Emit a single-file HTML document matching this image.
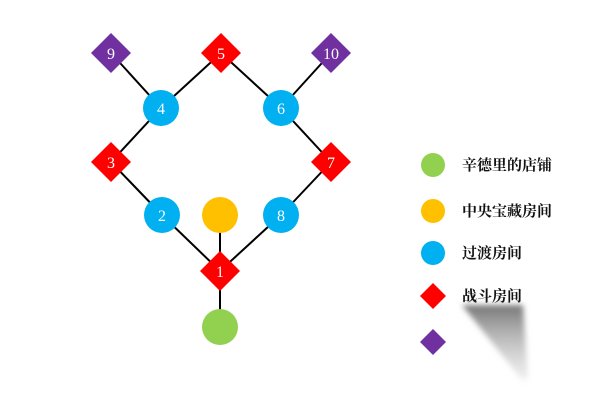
<!DOCTYPE html>
<html><head><meta charset="utf-8"><style>
html,body{margin:0;padding:0;background:#fff;width:600px;height:401px;overflow:hidden}
</style></head><body>
<svg width="600" height="401" viewBox="0 0 600 401" xmlns="http://www.w3.org/2000/svg">
<defs>
<filter id="b" x="-50%" y="-50%" width="200%" height="200%"><feGaussianBlur stdDeviation="3"/></filter>
<linearGradient id="g" x1="0" y1="0" x2="0" y2="1"><stop offset="0" stop-color="#777"/><stop offset="1" stop-color="#ccc" stop-opacity="0.3"/></linearGradient>
</defs>
<g stroke="#000" stroke-width="2">
<line x1="111" y1="53" x2="161" y2="108"/>
<line x1="221" y1="53" x2="161" y2="108"/>
<line x1="221" y1="53" x2="281" y2="108"/>
<line x1="331" y1="53" x2="281" y2="108"/>
<line x1="161" y1="108" x2="111" y2="162"/>
<line x1="281" y1="108" x2="331" y2="162"/>
<line x1="111" y1="162" x2="162" y2="215"/>
<line x1="331" y1="162" x2="281" y2="215"/>
<line x1="162" y1="215" x2="220" y2="271"/>
<line x1="281" y1="215" x2="220" y2="271"/>
<line x1="220" y1="215" x2="220" y2="271"/>
<line x1="220" y1="271" x2="220" y2="327"/>
</g>
<g font-family="Liberation Serif, serif" font-size="16" fill="#fff" text-anchor="middle">
<polygon points="111,33 131,53 111,73 91,53" fill="#7030a0"/><text x="111" y="59">9</text>
<polygon points="221,33 241,53 221,73 201,53" fill="#f00"/><text x="221" y="59">5</text>
<polygon points="331,33 351,53 331,73 311,53" fill="#7030a0"/><text x="331" y="59">10</text>
<circle cx="161" cy="108" r="18" fill="#00b0f0"/><text x="161" y="114">4</text>
<circle cx="281" cy="108" r="18" fill="#00b0f0"/><text x="281" y="114">6</text>
<polygon points="111,142 131,162 111,182 91,162" fill="#f00"/><text x="111" y="168">3</text>
<polygon points="331,142 351,162 331,182 311,162" fill="#f00"/><text x="331" y="168">7</text>
<circle cx="162" cy="215" r="18" fill="#00b0f0"/><text x="162" y="221">2</text>
<circle cx="220" cy="215" r="18" fill="#ffc000"/>
<circle cx="281" cy="215" r="18" fill="#00b0f0"/><text x="281" y="221">8</text>
<polygon points="220,251 240,271 220,291 200,271" fill="#f00"/><text x="220" y="277">1</text>
<circle cx="220" cy="327" r="18" fill="#92d050"/>
</g>
<circle cx="433" cy="165" r="12" fill="#92d050"/>
<circle cx="433" cy="211" r="12" fill="#ffc000"/>
<circle cx="433" cy="253" r="12" fill="#00b0f0"/>
<polygon points="433,283 446,296 433,309 420,296" fill="#f00"/>
<polygon points="433,329 446,342 433,355 420,342" fill="#7030a0"/>
<g font-family="Liberation Serif, 'Noto Serif CJK SC', serif" font-size="15" font-weight="bold" fill="#111">
<text x="462" y="170">辛德里的店铺</text>
<text x="462" y="216">中央宝藏房间</text>
<text x="462" y="258">过渡房间</text>
<text x="462" y="301">战斗房间</text>
</g>
<polygon points="462,305 523,305 528,378 522,380" fill="url(#g)" filter="url(#b)"/>
</svg>
</body></html>
